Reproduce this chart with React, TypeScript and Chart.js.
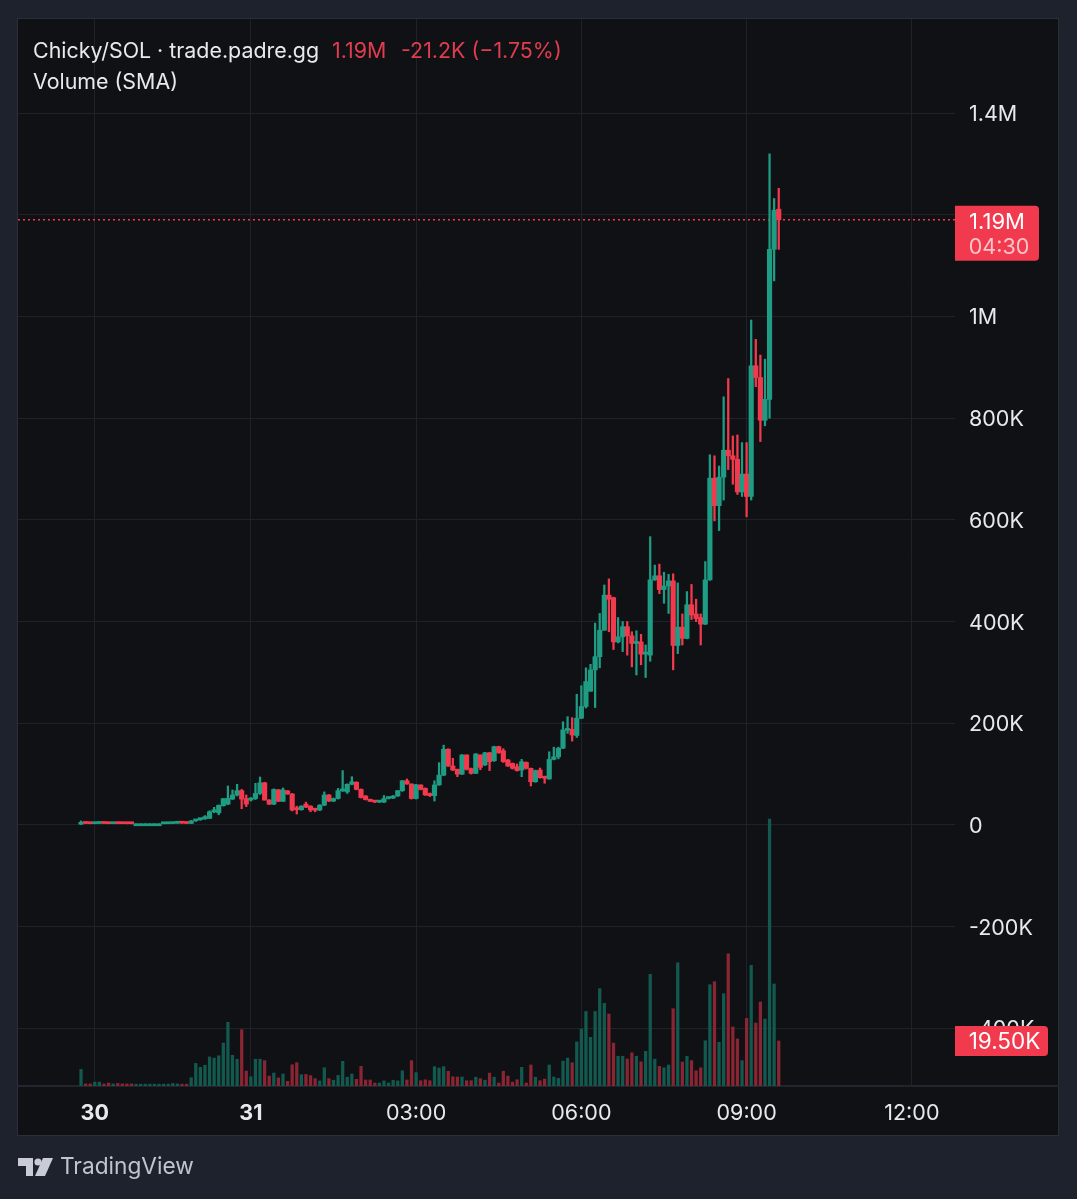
import { useEffect, useRef } from 'react'
import { Chart, registerables } from 'chart.js'
Chart.register(...registerables)

// prices and volumes in thousands, one entry per 5 min bar
const opens = [1.5,3.5,3,2.6,3,3.4,3,2.6,2.9,2.7,2.6,2.5,2.4,2.4,2.4,2.4,2.4,2.4,2.4,2.5,2.7,3.4,3.8,3.5,
  3,8,10.5,12,13,26,24,38,41,51,59,67.5,52,49,52,62,83,49,41,69,46.5,67,61,33,30,41,37,32,
  29.5,39,59,47,52,67,65,80,84,70,57,50,48,45,45,52,53,57,67.5,87,80.6,52,78.7,72,62,57.7,78.7,98,149,116,109.5,100,137.7,111,101.6,137.7,118,142,126.5,154,146,128,121,114.7,108,123,111.4,85,108,95,90.5,129,
  134,151,186,188,176,210,233,263,305,331,383,452,447,360,370,390,372,357,360,336,334,482,490,463,470,480,353,389,367,433,415,408,395,
  482,682,628,684,737,726,719,655,690,646,903,880,796,837,1132,1211]
const highs = [8,3.6,3.1,3.1,3.5,3.5,3.1,3,3,2.8,2.7,2.6,2.5,2.5,2.5,2.5,2.5,2.5,2.6,2.8,3.5,3.9,3.9,3.6,
  9,11,12,18.5,28,34.7,39.5,52,76.7,68.8,80,70,59,54,82,94.4,84,50,71,70,72.8,68,62,37,38,45,38,33,
  40,65,60,53,72,107,81,95,85,71,58,51,48.5,46.5,58,55,58,68,87.5,90.5,81,80,79,73,63,87,122.6,157,150,131,110,138.5,138,112,140.5,138,143,143,155,155,150,129,122,120,129,124,112,108,112,96,144,153,
  153,203,213,211,257,274,309,316,397,416,472,484,448,408,400,400,380,382,375,354,567,511,513,497,493,494,476,415,459,473,444,415,518,
  728,726,706,842,878,765,767,752,752,993,955,924,916,1320,1232,1252]
const lows = [1,2.6,2.4,2.4,2.8,2.8,2.4,2.4,2.4,2.4,2.3,2.3,2.3,2.3,2.3,2.3,2.3,2.3,2.3,2.4,2.6,3.2,3.2,2.8,
  3,7,9,11,13,24,20,37,40,50,57,32,36,47,50,60,49,40,40,46,46,60,27.5,21.6,29,34,26,26,
  28,38,46,46,51,66,62,79,69,53,49,46,44,44,44,51,52,56,66,80,51,51,69,58,56,47,78,97,115,107,95,99,108,100,101,108.5,117,107,125,141,123,115,110,106,95,110,76.7,84,92,82,90,128,
  130,150,180,165,172,209,230,263,231,309,383,380,345,358,341,334,311,295,315,290,322,481,455,436,416,305,337,354,366,404,400,354,394,
  481,598,579,639,699,670,650,646,606,639,862,754,785,800,1070,1132]
const closes = [3.5,3,2.6,3,3.4,3,2.6,2.9,2.7,2.6,2.5,2.4,2.4,2.4,2.4,2.4,2.4,2.4,2.5,2.7,3.4,3.8,3.5,3,
  8,10.5,12,16.4,26,29.5,38.7,51.8,52.4,59,67.5,51,41,53,62,83,49,41,70,46.5,69,61,29.5,30,37,35,29.5,29,
  39,59,47,52,67.5,71,80,85,70,54,50,46.5,45,46,52,54.4,57,67.5,87,80.6,52,79,70,59,57.7,78.7,98,149,116,108,100,137.7,109.5,101.6,139.6,113.4,142,124.5,154,142,124.5,116,111.4,107,124.5,111.4,85,107,93,92,129,134,
  151,187,190,177,210,233,282,305,331,383,452,444,360,370,390,372,357,360,336,338,482,490,463,470,480,353,389,367,433,413,406,395,482,
  682,628,684,737,726,719,655,690,646,903,880,796,837,1132,1209,1190]
const volumes = [7.2,.9,.9,1.7,1.7,.9,1.3,.9,1.1,.9,.9,.9,.8,.8,.8,.8,.8,.8,.8,.8,1.1,.9,.8,.8,
  3.6,9.8,8.1,9,12.6,12.1,13.1,18.6,27.6,13.3,11.6,24.4,6.5,4,11.6,11.6,11,4.3,5.6,3.5,5.2,2,9.2,10.1,4.9,5,4.5,3.2,2.2,7.9,3.2,2.5,4.6,10.7,3.8,5.2,2.9,8.5,2.6,2.6,1.3,1.3,2.2,1.3,2.5,2.2,6.6,2.6,11,5.8,
  2.3,2.7,2.3,8.4,7.8,8.4,6.4,4,3.9,3.9,2.3,2.3,3.8,3.2,2.5,5.6,3.8,1.3,6.4,4.3,1.7,2.7,8.1,1.3,9.1,3.8,2.3,3,9.1,3.9,3.3,10.8,12.1,10.1,19.1,24.7,32.3,21.1,32.3,42.2,35.8,31.2,18.6,12.9,12.9,11.7,14.4,12.9,10.5,15,48.4,11.6,8.5,7.9,9.1,33.5,53.4,10.4,12.9,11,6.6,7.9,19.6,43.9,45.2,18.9,40,57.3,25.6,20.4,11,29.3,52.3,27.3,36.4,29,115.7,44.2,19.5]
const barIndex = closes.map((_, i) => i)

const timeTicks = [3, 37, 73, 109, 145, 181]
const timeLabels = ['30', '31', '03:00', '06:00', '09:00', '12:00']
const boldTimeLabels = ['30', '31']
// 1.2M sits under the price tag, its label stays empty
const priceTicks = [-400, -200, 0, 200, 400, 600, 800, 1000, 1200, 1400]
const priceLabels = ['-400K', '-200K', '0', '200K', '400K', '600K', '800K', '1M', '', '1.4M']

const GREEN = '#1f9c84'
const RED = '#f23a4e'
const VOL_GREEN = '#125a50'
const VOL_RED = '#8a2533'
const GRID = '#202228'
const FONT = 'Inter'
const X_MIN = -13.73
const X_MAX = 190.4

const isUp = (i: number) => closes[i] >= opens[i]

const tagsPlugin = {
  id: 'tags',
  afterDraw(chart: any) {
    const { ctx, scales } = chart
    const left = chart.chartArea.right
    const last = closes.length - 1
    const tag = (y: number, w: number, h: number) => {
      ctx.fillStyle = '#f23a4e'
      ctx.beginPath()
      ctx.roundRect(left, y, w, h, [0, 4, 4, 0])
      ctx.fill()
    }
    ctx.save()
    ctx.textAlign = 'center'
    ctx.textBaseline = 'middle'
    ctx.font = `22px ${FONT}`
    const py = scales.y.getPixelForValue(closes[last])
    tag(py - 14, 84, 55)
    ctx.fillStyle = '#ffffff'
    ctx.fillText('1.19M', left + 42, py + 3)
    ctx.font = `21.5px ${FONT}`
    ctx.fillStyle = 'rgba(255,255,255,.7)'
    ctx.fillText('04:30', left + 44, py + 28)
    ctx.font = `22.5px ${FONT}`
    const vy = scales.vol.getPixelForValue(volumes[last])
    tag(vy - 15, 93, 30)
    ctx.fillStyle = '#ffffff'
    ctx.fillText('19.50K', left + 49.5, vy + 1)
    ctx.restore()
  },
}

export default function App() {
  const ref = useRef<HTMLCanvasElement>(null)

  useEffect(() => {
    document.body.style.margin = '0'
    if (!ref.current) return
    const chart = new Chart(ref.current, {
      type: 'bar',
      plugins: [tagsPlugin],
      data: {
        labels: barIndex,
        datasets: [
          { label: 'Body', data: barIndex.map(i => [opens[i], closes[i]]), backgroundColor: barIndex.map(i => isUp(i) ? GREEN : RED), barThickness: 4.5, minBarLength: 2, grouped: false, yAxisID: 'y' },
          { label: 'Wick', data: barIndex.map(i => [lows[i], highs[i]]), backgroundColor: barIndex.map(i => isUp(i) ? GREEN : RED), barThickness: 1.6, grouped: false, yAxisID: 'y' },
          { label: 'Volume', data: volumes, backgroundColor: barIndex.map(i => isUp(i) ? VOL_GREEN : VOL_RED), barThickness: 2.6, grouped: false, yAxisID: 'vol' },
          { type: 'line', label: 'Last', data: [{ x: X_MIN, y: closes[closes.length - 1] }, { x: X_MAX, y: closes[closes.length - 1] }], borderColor: RED, borderWidth: 1.5, borderDash: [2, 3], pointRadius: 0, yAxisID: 'y' },
        ] as any,
      },
      options: {
        responsive: false,
        animation: false,
        layout: { padding: { left: 18, top: 19, right: 18, bottom: 64 } },
        plugins: { legend: { display: false }, tooltip: { enabled: false } },
        scales: {
          x: {
            type: 'linear', min: X_MIN, max: X_MAX, offset: false,
            afterBuildTicks: (s: any) => { s.ticks = timeTicks.map(value => ({ value })) },
            afterFit: (s: any) => { s.height = 49; s.paddingLeft = 0; s.paddingRight = 0 },
            grid: { color: GRID, drawTicks: false, offset: false },
            border: { display: false },
            ticks: {
              autoSkip: false, maxRotation: 0, padding: 15, color: '#e8e9ec',
              callback: (v: any) => timeLabels[timeTicks.indexOf(v)],
              font: (c: any) => ({ family: FONT, size: 21.5, weight: boldTimeLabels.includes(timeLabels[timeTicks.indexOf(c.tick?.value)]) ? 'bold' : 'normal' }),
            },
          },
          y: {
            position: 'right', min: -513.3, max: 1585,
            afterBuildTicks: (s: any) => { s.ticks = priceTicks.map(value => ({ value })) },
            afterFit: (s: any) => { s.width = 104; s.paddingTop = 0; s.paddingBottom = 0 },
            grid: { color: GRID, drawTicks: false },
            border: { display: false },
            ticks: {
              autoSkip: false, padding: 14, labelOffset: 1.5, color: '#e8e9ec', font: { family: FONT, size: 21.5 },
              callback: (v: any) => priceLabels[priceTicks.indexOf(v)],
            },
          },
          vol: { display: false, min: 0, max: 462.4 },
        },
      } as any,
    })
    return () => chart.destroy()
  }, [])

  const text = { position: 'absolute', fontFamily: FONT, fontSize: 21.4, lineHeight: '30px', whiteSpace: 'pre', color: '#e8e9ec' } as const

  return (
    <div style={{ position: 'absolute', left: 0, top: 0, width: 1077, height: 1199, background: '#1d222d', overflow: 'hidden' }}>
      <div style={{ position: 'absolute', left: 17, top: 18, width: 1040, height: 1116, background: '#101114', border: '1px solid #2a2e39' }} />
      <div style={{ position: 'absolute', left: 18, top: 1085, width: 1041, height: 2, background: '#22252d' }} />
      <canvas ref={ref} width={1077} height={1199} style={{ position: 'absolute', left: 0, top: 0 }} />
      <div style={{ ...text, left: 33, top: 35 }}>Chicky/SOL · trade.padre.gg</div>
      <div style={{ ...text, left: 332, top: 35, color: '#e23c4f' }}>1.19M</div>
      <div style={{ ...text, left: 401, top: 35, color: '#e23c4f' }}>-21.2K (−1.75%)</div>
      <div style={{ ...text, left: 33, top: 66 }}>Volume (SMA)</div>
      <svg width={36} height={19} style={{ position: 'absolute', left: 18, top: 1158 }}>
        <polygon points="0,0 15,0 15,18 8,18 8,8 0,8" fill="#c9ccd6" />
        <circle cx={20} cy={4} r={3.6} fill="#c9ccd6" />
        <polygon points="25,0 35,0 27,18 17,18" fill="#c9ccd6" />
      </svg>
      <div style={{ ...text, left: 60, top: 1151, fontSize: 22.7, color: '#c0c4d0' }}>TradingView</div>
    </div>
  )
}
